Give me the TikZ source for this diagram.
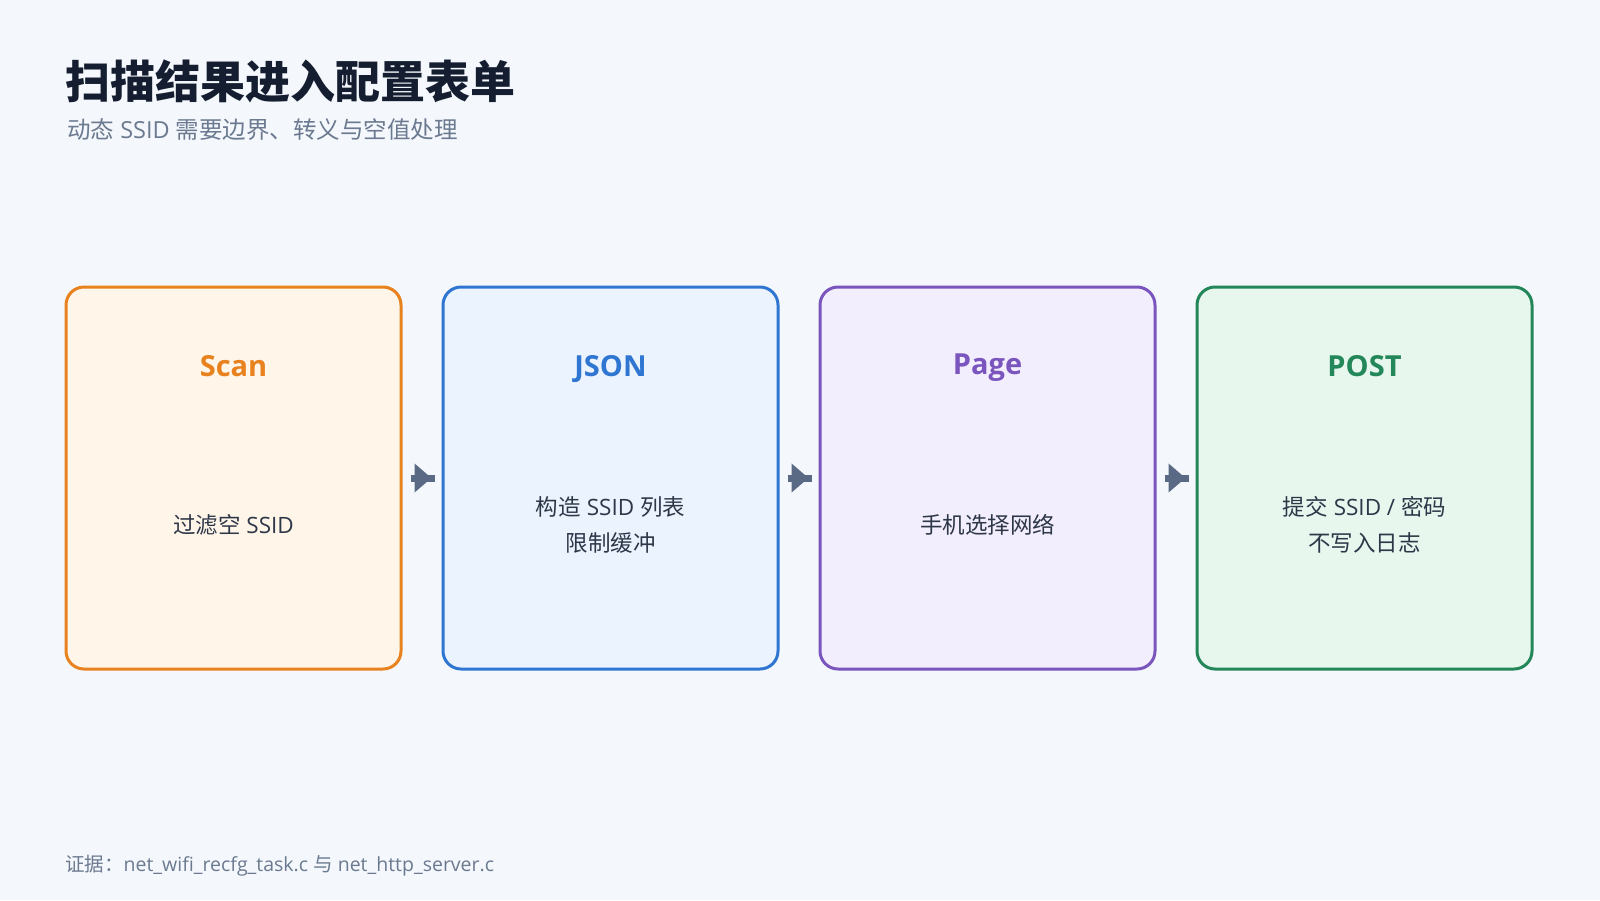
\documentclass[tikz,border=0pt]{standalone}
\usepackage{fontspec}
\setmainfont{Open Sans}
\newfontfamily\cjk{Noto Sans CJK SC}
\usetikzlibrary{arrows.meta,decorations.markings}

\definecolor{bgcol}{HTML}{F4F7FB}
\definecolor{titlecol}{HTML}{141E30}
\definecolor{subcol}{HTML}{6B7A90}
\definecolor{textcol}{HTML}{2D3748}
\definecolor{arrowcol}{HTML}{5A6A85}
\definecolor{scanline}{HTML}{E8821E}
\definecolor{scanfill}{HTML}{FFF5E9}
\definecolor{jsonline}{HTML}{2F76D2}
\definecolor{jsonfill}{HTML}{EBF3FE}
\definecolor{pageline}{HTML}{7A55BE}
\definecolor{pagefill}{HTML}{F2EEFD}
\definecolor{postline}{HTML}{23875A}
\definecolor{postfill}{HTML}{E7F7EE}

\tikzset{
  stage/.style 2 args={draw=#1, fill=#2, line width=3pt, rounded corners=18pt,
    minimum width=335pt, minimum height=382pt},
  stagetitle/.style={text=#1, anchor=base, font=\bfseries\fontsize{29}{36}\selectfont},
  stagebody/.style={text=textcol, align=center, font=\fontsize{22.5}{36}\selectfont},
  flow/.style={draw=arrowcol, line width=7pt,
    postaction={decorate, decoration={markings,
      mark=at position 21pt with {\arrow[arrowcol]{Triangle[length=17pt,width=28pt]}}}}}
}

\begin{document}
\begin{tikzpicture}[x=1pt,y=-1pt]
\fill[bgcol] (0,0) rectangle (1600,900);
\useasboundingbox (0,0) rectangle (1600,900);
% Heading
\node[anchor=west, inner sep=0, text=titlecol, font=\cjk\bfseries\fontsize{45}{54}\selectfont] (title) at (65,81) {扫描结果进入配置表单};
\node[anchor=west, inner sep=0, text=subcol, font=\fontsize{23.5}{28}\selectfont] (subtitle) at (67,130) {{\cjk 动态} SSID {\cjk 需要边界、转义与空值处理}};
% Stages
\node[stage={scanline}{scanfill}] (scan) at (233.5,478) {};
\node[stage={jsonline}{jsonfill}] (json) at (610.5,478) {};
\node[stage={pageline}{pagefill}] (page) at (987.5,478) {};
\node[stage={postline}{postfill}] (post) at (1364.5,478) {};
\node[stagetitle=scanline] (scanT) at (233.5,376) {Scan};
\node[stagetitle=jsonline] (jsonT) at (610.5,376) {JSON};
\node[stagetitle=pageline] (pageT) at (987.5,374) {Page};
\node[stagetitle=postline] (postT) at (1364.5,376) {POST};
\node[stagebody] (scanB) at (233.5,525) {{\cjk 过滤空} SSID};
\node[stagebody] (jsonB) at (610.5,525) {{\cjk 构造} SSID {\cjk 列表}\\{\cjk 限制缓冲}};
\node[stagebody] (pageB) at (987.5,525) {{\cjk 手机选择网络}};
\node[stagebody] (postB) at (1364.5,525) {{\cjk 提交} SSID / {\cjk 密码}\\{\cjk 不写入日志}};
% Arrows between stages
\foreach \a/\b in {scan/json,json/page,page/post} {
  \draw[flow] ([xshift=8pt]\a.east) -- ([xshift=-7pt]\b.west);
}
% Footer
\node[anchor=west, inner sep=0, text=subcol, font=\fontsize{19.5}{24}\selectfont] (source) at (65,866) {{\cjk 证据：}net\_wifi\_recfg\_task.c {\cjk 与} net\_http\_server.c};
\end{tikzpicture}
\end{document}
